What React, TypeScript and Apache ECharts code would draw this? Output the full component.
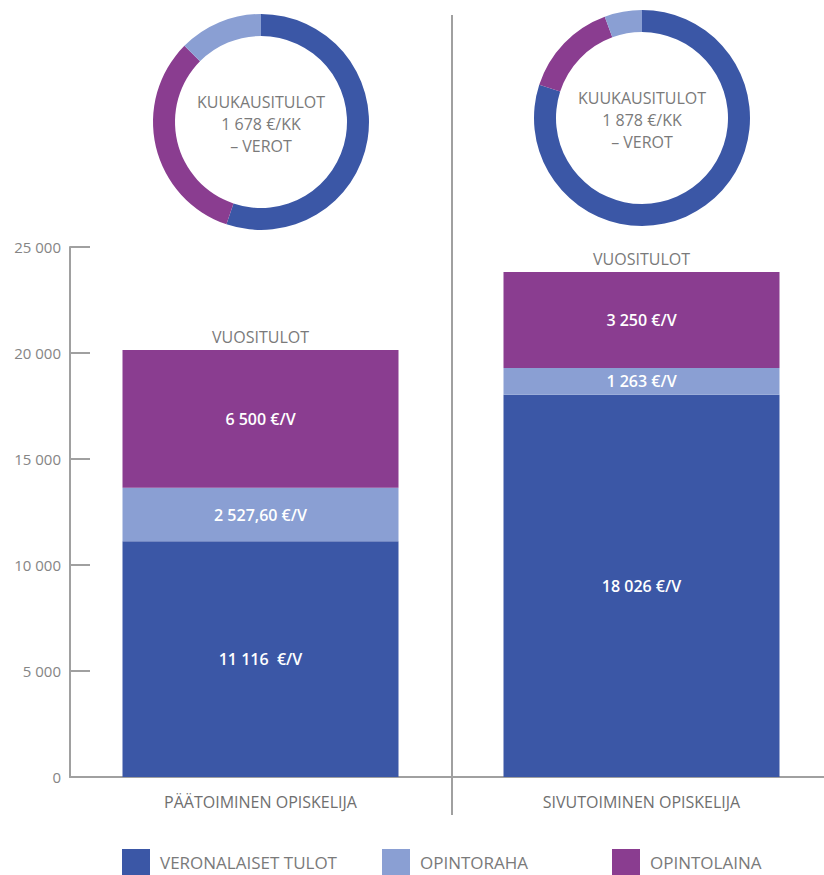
import React, { useEffect, useRef } from "react";
import * as echarts from "echarts";

const categories = ["PÄÄTOIMINEN OPISKELIJA", "SIVUTOIMINEN OPISKELIJA"];
const seriesNames = ["VERONALAISET TULOT", "OPINTORAHA", "OPINTOLAINA"];
// bar segment heights as drawn in the picture (€/year)
const taxableIncome = [11116, 18026];
const studyGrant = [2527.6, 1263];
const studyLoan = [6500, 4530];
// printed labels on the segments
const taxableLabels = ["11 116  €/V", "18 026 €/V"];
const grantLabels = ["2 527,60 €/V", "1 263 €/V"];
const loanLabels = ["6 500 €/V", "3 250 €/V"];
const totalLabel = "VUOSITULOT";
const totalOffsets = [0, 0];
// donut rings: taxable, loan, grant (clockwise from 12 o'clock)
const donutFullTime = [11116, 6500, 2527.6];
const donutPartTime = [18026, 3250, 1263];
const donutTexts = [
  ["KUUKAUSITULOT", "1 678 €/KK", "– VEROT"],
  ["KUUKAUSITULOT", "1 878 €/KK", "– VEROT"],
];
const yTicks = [0, 5000, 10000, 15000, 20000, 25000];

const C_DARK = "#3b57a6";
const C_LIGHT = "#8a9fd3";
const C_PURPLE = "#8a3d90";
const GRAY = "#7a7a7a";
const AXIS = "#a0a0a0";
const FONT = "'Open Sans', 'DejaVu Sans', sans-serif";

function fmtTick(v: number): string {
  if (v === 0) return "0";
  return `${Math.floor(v / 1000)} 000`;
}

export default function App() {
  const ref = useRef<HTMLDivElement>(null);
  useEffect(() => {
    if (!ref.current) return;
    const chart = echarts.init(ref.current, undefined, { renderer: "svg" });
    const colors = [C_DARK, C_LIGHT, C_PURPLE];
    const barData = [taxableIncome, studyGrant, studyLoan];
    const barLabels = [taxableLabels, grantLabels, loanLabels];
    const donutColors = [C_DARK, C_PURPLE, C_LIGHT];
    const donutNames = [seriesNames[0], seriesNames[2], seriesNames[1]];
    const donutCenters = [
      [261, 122],
      [642, 118],
    ];
    const donuts = [donutFullTime, donutPartTime];

    chart.setOption({
      animation: false,
      textStyle: { fontFamily: FONT },
      grid: { left: 70, right: 0, top: 247, bottom: 98 },
      xAxis: {
        type: "category",
        data: categories,
        axisLine: { lineStyle: { color: AXIS, width: 2 } },
        axisTick: { show: false },
        axisLabel: { color: "#6f6f6f", fontSize: 16, margin: 17, fontFamily: FONT },
      },
      yAxis: {
        type: "value",
        min: yTicks[0],
        max: yTicks[yTicks.length - 1],
        interval: 5000,
        splitLine: { show: false },
        axisLine: { show: true, lineStyle: { color: AXIS, width: 2 } },
        axisTick: { show: true, inside: true, length: 20, lineStyle: { color: AXIS, width: 2 } },
        axisLabel: {
          color: "#858585",
          fontSize: 15,
          margin: 9,
          padding: [8, 0, 0, 0],
          fontFamily: FONT,
          formatter: (v: number) => fmtTick(v),
        },
      },
      legend: seriesNames.map((n, i) => ({
        data: [n],
        left: [122, 382, 612][i],
        top: 849,
        padding: 0,
        icon: "rect",
        itemWidth: 28,
        itemHeight: 26,
        selectedMode: false,
        textStyle: { color: GRAY, fontSize: 17, fontFamily: FONT, padding: [0, 0, 0, 5] },
      })),
      series: [
        ...seriesNames.map((n, i) => ({
          type: "bar",
          name: n,
          stack: "total",
          data: barData[i],
          barWidth: 276,
          itemStyle: { color: colors[i] },
          silent: true,
          label: {
            show: true,
            position: "inside",
            color: "#ffffff",
            fontSize: 16,
            fontWeight: 600,
            fontFamily: FONT,
            formatter: (p: any) => barLabels[i][p.dataIndex],
          },
        })),
        {
          type: "bar",
          name: "total",
          stack: "total",
          data: totalOffsets,
          barWidth: 276,
          silent: true,
          itemStyle: { color: "transparent" },
          label: {
            show: true,
            position: "top",
            distance: 5,
            color: GRAY,
            fontSize: 16,
            fontFamily: FONT,
            formatter: () => totalLabel,
          },
        },
        ...donuts.map((d, k) => ({
          type: "pie",
          center: donutCenters[k],
          radius: [86, 108],
          startAngle: 90,
          clockwise: true,
          silent: true,
          label: { show: false },
          labelLine: { show: false },
          emphasis: { disabled: true },
          data: d.map((v, j) => ({
            value: v,
            name: donutNames[j],
            itemStyle: { color: donutColors[j] },
          })),
        })),
      ],
      graphic: [
        {
          type: "line",
          shape: { x1: 452, y1: 15, x2: 452, y2: 815 },
          style: { stroke: AXIS, lineWidth: 2 },
          silent: true,
        },
        ...donutTexts.map((lines, k) => ({
          type: "text",
          x: donutCenters[k][0],
          y: donutCenters[k][1] + 2,
          silent: true,
          style: {
            text: lines.join("\n"),
            align: "center",
            verticalAlign: "middle",
            fill: GRAY,
            fontSize: 16,
            fontFamily: FONT,
            lineHeight: 22,
          },
        })),
      ],
    });
    return () => chart.dispose();
  }, []);
  return (
    <div style={{ position: "fixed", left: 0, top: 0, width: 824, height: 875, overflow: "hidden", background: "#fff" }}>
      <div ref={ref} style={{ position: "absolute", left: 0, top: 0, width: 832, height: 875 }} />
    </div>
  );
}
